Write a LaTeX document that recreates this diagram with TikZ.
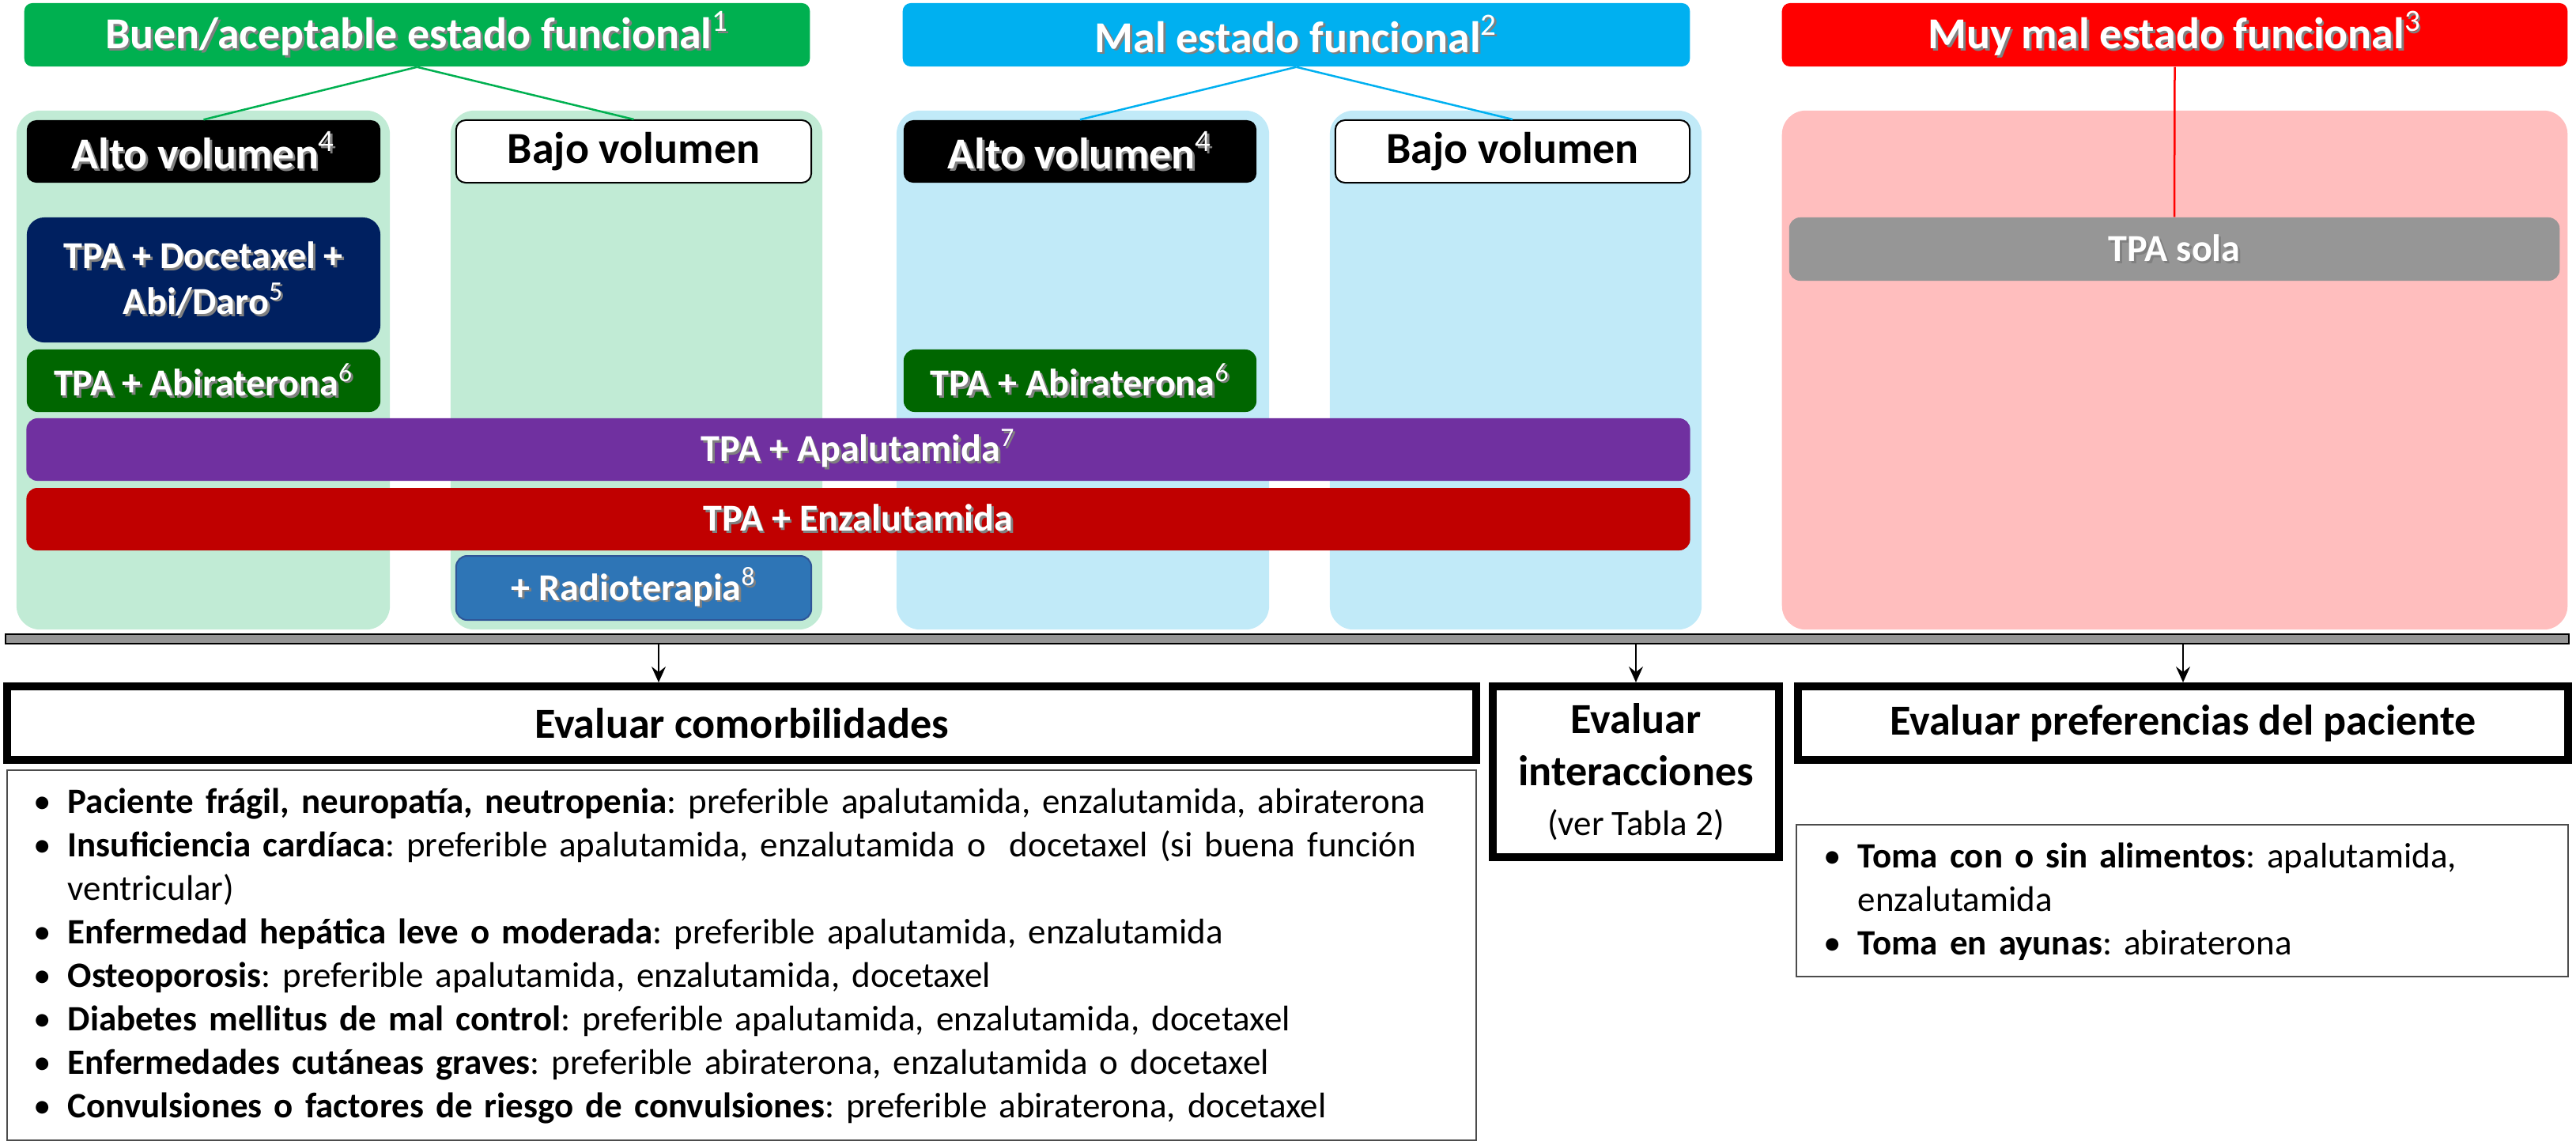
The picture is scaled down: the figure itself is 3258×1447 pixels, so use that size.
\documentclass[tikz,border=0pt]{standalone}
\usepackage{fontspec}
\setmainfont{Carlito}
\usetikzlibrary{arrows.meta,positioning}

\definecolor{hdgreen}{HTML}{00B050}
\definecolor{hdblue}{HTML}{00B0F0}
\definecolor{hdred}{HTML}{FF0000}
\definecolor{pnlgreen}{HTML}{C1EBD5}
\definecolor{pnlblue}{HTML}{C1EAF8}
\definecolor{pnlred}{HTML}{FFBEBE}
\definecolor{navy}{HTML}{002060}
\definecolor{drkgreen}{HTML}{006600}
\definecolor{purp}{HTML}{7030A0}
\definecolor{drkred}{HTML}{C00000}
\definecolor{radblue}{HTML}{2E75B6}
\definecolor{radborder}{HTML}{2F5597}
\definecolor{midgrey}{HTML}{969696}

\newcommand\hdfont{\fontsize{15.9pt}{19pt}\selectfont\bfseries}
\newcommand\drfont{\fontsize{13.7pt}{16.5pt}\selectfont\bfseries}
\newcommand\evfont{\fontsize{15.4pt}{18.8pt}\selectfont\bfseries}
\newcommand\lsfont{\fontsize{12.8pt}{15.65pt}\selectfont\frenchspacing}
\newcommand\fnum[1]{\textsuperscript{\mdseries #1}}
\newcommand\shd[1]{\makebox[0pt][l]{\kern0.8pt\raisebox{-0.8pt}{\textcolor{black!50}{#1}}}#1}
\newcommand\itm[2]{\noindent\hangindent=0.43cm\hangafter=1\makebox[0.43cm][l]{\textbullet}\textbf{#1}: #2\par}

\tikzset{
  header/.style={fill=#1, rounded corners=0.1cm, minimum width=9.93cm, minimum height=0.8cm, inner sep=0pt, text=white, font=\hdfont},
  panel/.style={fill=#1, rounded corners=0.3cm, minimum height=6.56cm, inner sep=0pt},
  volbox/.style={rounded corners=0.12cm, minimum width=4.47cm, minimum height=0.79cm, inner sep=0pt, font=\hdfont},
  drug/.style={fill=#1, rounded corners=0.14cm, minimum height=0.79cm, inner sep=0pt, text=white, font=\drfont, align=center},
  evalbox/.style={draw, line width=0.1cm, inner sep=0pt, font=\evfont, align=center},
  listbox/.style={draw=black!70, line width=0.02cm, inner sep=0pt},
  link/.style={draw=#1, line width=0.025cm},
  down/.style={-{Stealth[length=0.2cm, width=0.18cm, inset=0.07cm]}, line width=0.02cm},
}

\begin{document}
\begin{tikzpicture}[x=0.01cm, y=-0.01cm]
\useasboundingbox (0,0) rectangle (3258,1447);

% coloured columns
\node[panel=pnlgreen, minimum width=4.72cm] (pg1) at (257,468) {};
\node[panel=pnlgreen, minimum width=4.70cm] (pg2) at (805,468) {};
\node[panel=pnlblue, minimum width=4.71cm] (pb1) at (1369.5,468) {};
\node[panel=pnlblue, minimum width=4.70cm] (pb2) at (1917,468) {};
\node[panel=pnlred, minimum width=9.93cm] (pr) at (2750.5,468) {};

% functional status
\node[header=hdgreen] (hgood) at (527.5,44) {\shd{Buen/aceptable estado funcional\fnum{1}}};
\node[header=hdblue, minimum width=9.95cm] (hbad) at (1639.5,44) {\shd{Mal estado funcional\fnum{2}}};
\node[header=hdred] (hworst) at (2750.5,44) {\shd{Muy mal estado funcional\fnum{3}}};

% tumour volume
\node[volbox, fill=black, text=white] (alto1) at (257.5,191.5) {\shd{Alto volumen\fnum{4}}};
\node[volbox, fill=white, draw, line width=0.02cm, minimum width=4.49cm] (bajo1) at (801.5,191.5) {Bajo volumen};
\node[volbox, fill=black, text=white, minimum width=4.46cm] (alto2) at (1366,191.5) {\shd{Alto volumen\fnum{4}}};
\node[volbox, fill=white, draw, line width=0.02cm, minimum width=4.48cm] (bajo2) at (1913,191.5) {Bajo volumen};

% treatments
\node[drug=navy, minimum width=4.47cm, minimum height=1.58cm, rounded corners=0.22cm] (doce) at (257.5,354) {\shd{TPA + Docetaxel +}\\\shd{Abi/Daro\fnum{5}}};
\node[drug=drkgreen, minimum width=4.47cm] (abi1) at (257.5,481.5) {\shd{TPA + Abiraterona\fnum{6}}};
\node[drug=drkgreen, minimum width=4.46cm] (abi2) at (1366,481.5) {\shd{TPA + Abiraterona\fnum{6}}};
\node[drug=purp, minimum width=21.03cm] (apa) at (1085.5,568.5) {\shd{TPA + Apalutamida\fnum{7}}};
\node[drug=drkred, minimum width=21.03cm] (enza) at (1085.5,656.5) {\shd{TPA + Enzalutamida}};
\node[drug=radblue, draw=radborder, line width=0.02cm, minimum width=4.49cm, minimum height=0.81cm] (radio) at (801.5,743.5) {\shd{+ Radioterapia\fnum{8}}};
\node[drug=midgrey, minimum width=9.74cm, minimum height=0.8cm] (sola) at (2750,315) {\shd{TPA sola}};

\draw[link=hdgreen] (hgood.south) -- (alto1.north);
\draw[link=hdgreen] (hgood.south) -- (bajo1.north);
\draw[link=hdblue] (hbad.south) -- (alto2.north);
\draw[link=hdblue] (hbad.south) -- (bajo2.north);
\draw[link=hdred] (hworst.south) -- (sola.north);

\node[fill=midgrey, draw, line width=0.025cm, minimum width=32.4cm, minimum height=0.12cm, inner sep=0pt] (bar) at (1628,808) {};

% what to assess
\node[evalbox, minimum width=18.56cm, minimum height=0.93cm] (comorb) at (938,914.5) {Evaluar comorbilidades};
\node[evalbox, minimum width=3.62cm, minimum height=2.16cm] (inter) at (2069,976) {Evaluar\\interacciones\\[-0.03cm]{\lsfont\mdseries (ver Tabla 2)}};
\node[evalbox, minimum width=9.74cm, minimum height=0.93cm] (pref) at (2761,914.5) {Evaluar preferencias del paciente};

\coordinate (acom) at (833,808);
\draw[down] (acom |- bar.south) -- (acom |- comorb.north);
\draw[down] (inter.north |- bar.south) -- (inter.north);
\draw[down] (pref.north |- bar.south) -- (pref.north);

\node[listbox, minimum width=18.56cm, minimum height=4.68cm] (comlist) at (938,1208) {};
\node[anchor=base west, inner sep=0pt, text width=18.2cm, align=left, font=\lsfont] (comtxt) at (42,1028) {%
\itm{Paciente frágil, neuropatía, neutropenia}{preferible apalutamida, enzalutamida, abiraterona}%
\itm{Insuficiencia cardíaca}{preferible apalutamida, enzalutamida o\ \ docetaxel (si buena función\newline ventricular)}%
\itm{Enfermedad hepática leve o moderada}{preferible apalutamida, enzalutamida}%
\itm{Osteoporosis}{preferible apalutamida, enzalutamida, docetaxel}%
\itm{Diabetes mellitus de mal control}{preferible apalutamida, enzalutamida, docetaxel}%
\itm{Enfermedades cutáneas graves}{preferible abiraterona, enzalutamida o docetaxel}%
\itm{Convulsiones o factores de riesgo de convulsiones}{preferible abiraterona, docetaxel}};

\node[listbox, minimum width=9.76cm, minimum height=1.92cm] (preflist) at (2760,1139) {};
\node[anchor=base west, inner sep=0pt, text width=9.1cm, align=left, font=\lsfont] (preftxt) at (2306,1097) {%
\itm{Toma con o sin alimentos}{apalutamida,\newline enzalutamida}%
\itm{Toma en ayunas}{abiraterona}};
\end{tikzpicture}
\end{document}
